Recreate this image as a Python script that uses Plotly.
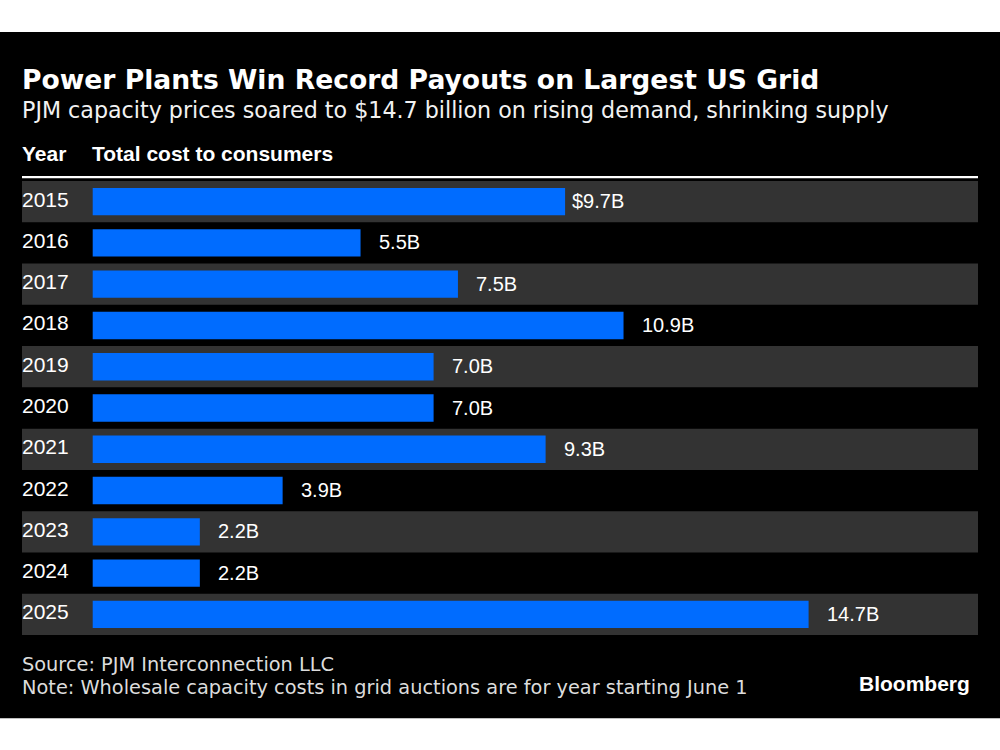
import plotly.graph_objects as go

# ---------------- data ----------------
years = ["2015", "2016", "2017", "2018", "2019", "2020",
         "2021", "2022", "2023", "2024", "2025"]
cost_billions = [9.7, 5.5, 7.5, 10.9, 7.0, 7.0, 9.3, 3.9, 2.2, 2.2, 14.7]
value_labels = ["$9.7B", "5.5B", "7.5B", "10.9B", "7.0B", "7.0B",
                "9.3B", "3.9B", "2.2B", "2.2B", "14.7B"]

title_text = "Power Plants Win Record Payouts on Largest US Grid"
subtitle_text = "PJM capacity prices soared to $14.7 billion on rising demand, shrinking supply"
header_year = "Year"
header_value = "Total cost to consumers"
source_text = "Source: PJM Interconnection LLC"
note_text = "Note: Wholesale capacity costs in grid auctions are for year starting June 1"
brand_text = "Bloomberg"

# ---------------- layout geometry (pixels) ----------------
W, H = 1000, 750
L_PX, R_PX = 22, 978          # plot area horizontal extent
TOP_PX, BOT_PX = 181, 635.3   # plot area vertical extent
ZERO_PX = 92.7                # x position of value 0
PX_PER_UNIT = 48.7

BLUE = "#006cff"
BAND = "#333333"
SANS = "Liberation Sans"
DEJA = "DejaVu Sans"


def py(p):
    return (BOT_PX - p) / (BOT_PX - TOP_PX)


def px(p):
    return (p - L_PX) / (R_PX - L_PX)


x_range = [(L_PX - ZERO_PX) / PX_PER_UNIT, (R_PX - ZERO_PX) / PX_PER_UNIT]
n = len(years)

fig = go.Figure()
fig.add_trace(go.Bar(
    x=cost_billions, y=years, orientation="h",
    width=0.663, marker=dict(color=BLUE, line=dict(width=0)),
    hoverinfo="skip",
))

shapes = []
# black card
shapes.append(dict(type="rect", xref="paper", yref="paper",
                   x0=px(0), x1=px(W), y0=py(718.5), y1=py(32),
                   fillcolor="#000000", line=dict(width=0), layer="below"))
# alternating bands
for i in range(0, n, 2):
    shapes.append(dict(type="rect", xref="paper", yref="y",
                       x0=0, x1=1, y0=i - 0.5, y1=i + 0.5,
                       fillcolor=BAND, line=dict(width=0), layer="below"))
# white rule under header
shapes.append(dict(type="line", xref="paper", yref="paper",
                   x0=0, x1=1, y0=py(177.2), y1=py(177.2),
                   line=dict(color="#ffffff", width=2.3)))

ann = []


def add_text(text, x, y, xref="paper", yref="paper", size=20, family=SANS,
             color="#ffffff", weight="normal", xanchor="left", xshift=0, yshift=0):
    ann.append(dict(text=text, x=x, y=y, xref=xref, yref=yref,
                    xanchor=xanchor, yanchor="middle", showarrow=False,
                    xshift=xshift, yshift=yshift, borderpad=0, borderwidth=0,
                    font=dict(family=family, size=size, color=color, weight=weight)))


# title block
add_text(title_text, 0, py(79.2), size=26.6, family=DEJA, weight="bold")
add_text(subtitle_text, 0, py(110), size=22.2, family=DEJA, color="#f2f2f2")
add_text(header_year, 0, py(153.5), size=21, weight="bold")
add_text(header_value, 0, py(153.5), xref="x", size=21, weight="bold", xshift=-0.5)

# row labels
for i, (yr, v, lab) in enumerate(zip(years, cost_billions, value_labels)):
    add_text(yr, 0, i, yref="y", size=21, xshift=0, yshift=2.5)
    shift = 18 - (0.556 * 20 if lab.startswith("$") else 0)
    add_text(lab, v, i, xref="x", yref="y", size=20, xshift=shift, yshift=0.5)

# footer
add_text(source_text, 0, py(665), size=19.35, family=DEJA, color="#dcdcdc")
add_text(note_text, 0, py(688), size=19.35, family=DEJA, color="#dcdcdc")
add_text(brand_text, px(970), py(683.7), size=21, weight="bold", xanchor="right")

fig.update_layout(
    width=W, height=H,
    margin=dict(l=L_PX, r=W - R_PX, t=TOP_PX, b=H - BOT_PX, pad=0, autoexpand=False),
    paper_bgcolor="#ffffff", plot_bgcolor="rgba(0,0,0,0)",
    showlegend=False,
    xaxis=dict(range=x_range, visible=False, fixedrange=True),
    yaxis=dict(type="category", range=[n - 0.5, -0.5], visible=False, fixedrange=True),
    shapes=shapes, annotations=ann,
)

fig.write_html("out.html", config={"displayModeBar": False})
